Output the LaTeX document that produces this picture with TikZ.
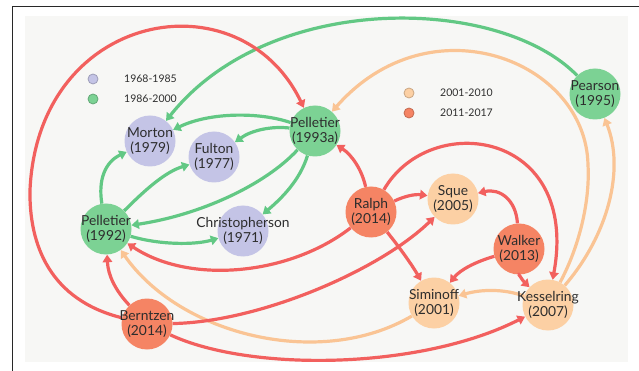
\documentclass[tikz,border=0pt]{standalone}
\usepackage{fontspec}
\setmainfont{Lato}
\usetikzlibrary{arrows.meta}

% palette
\definecolor{panel}{RGB}{247,247,245}
\definecolor{frameline}{RGB}{40,40,40}
\definecolor{inkdark}{RGB}{45,45,45}
\definecolor{lavfill}{RGB}{196,196,230}
\definecolor{greenfill}{RGB}{124,210,148}
\definecolor{peachfill}{RGB}{252,208,164}
\definecolor{salmonfill}{RGB}{245,132,100}
\definecolor{greenedge}{RGB}{98,200,132}
\definecolor{peachedge}{RGB}{250,196,148}
\definecolor{rededge}{RGB}{242,96,94}

\tikzset{
  author/.style={circle, minimum size=51pt, inner sep=0pt, draw=none},
  lav/.style={author, fill=lavfill},
  grn/.style={author, fill=greenfill},
  pch/.style={author, fill=peachfill},
  sal/.style={author, fill=salmonfill},
  txt/.style={align=center, text=inkdark, inner sep=0pt,
    font=\fontsize{13.8}{14.8}\selectfont},
  cite/.style={line width=3.2pt, -{Triangle[length=7.5pt,width=9.5pt]}},
  eg/.style={cite, draw=greenedge},
  ep/.style={cite, draw=peachedge},
  er/.style={cite, draw=rededge},
  keydot/.style={circle, minimum size=10pt, inner sep=0pt, line width=0.8pt},
  keytxt/.style={anchor=west, text=inkdark, inner sep=0pt,
    font=\fontsize{10.5}{12}\selectfont},
}

\begin{document}
\begin{tikzpicture}[x=1pt, y=-1pt]
\path[use as bounding box] (0,0) rectangle (639,371);
\fill[white] (0,0) rectangle (639,371);
\fill[panel] (25,16) rectangle (628,362);
\draw[frameline, line width=1pt] (12.5,371) -- (12.5,6.5) -- (639,6.5);

% legend
\node[keydot, fill=lavfill, draw=lavfill!80!black] (k1) at (93,79) {};
\node[keytxt] (k1t) at (124,79) {1968-1985};
\node[keydot, fill=greenfill, draw=greenfill!80!black] (k2) at (93,99) {};
\node[keytxt] (k2t) at (124,99) {1986-2000};
\node[keydot, fill=peachfill, draw=peachfill!80!black] (k3) at (409,93) {};
\node[keytxt] (k3t) at (440,93) {2001-2010};
\node[keydot, fill=salmonfill, draw=salmonfill!80!black] (k4) at (409,113) {};
\node[keytxt] (k4t) at (440,113) {2011-2017};

% authors
\node[lav] (morton)   at (150,141) {};
\node[lav] (fulton)   at (214,157) {};
\node[lav] (chris)    at (243,231) {};
\node[grn] (p93)      at (315,131) {};
\node[grn] (p92)      at (106,229) {};
\node[grn] (pearson)  at (595,94)  {};
\node[pch] (sque)     at (453,199) {};
\node[pch] (siminoff) at (434,303) {};
\node[pch] (kessel)   at (548,305) {};
\node[sal] (ralph)    at (371,212) {};
\node[sal] (walker)   at (519,249) {};
\node[sal] (berntzen) at (147,324) {};

% green citations
\draw[eg] (pearson) .. controls (500,-4) and (270,-10) .. (morton);
\draw[eg] (p93) .. controls (260,112) and (210,112) .. (morton);
\draw[eg] (p93) .. controls (272,126) and (252,130) .. (fulton);
\draw[eg] (p93) .. controls (265,185) and (200,215) .. (p92);
\draw[eg] (p93) .. controls (300,180) and (282,198) .. (chris);
\draw[eg] (p92) .. controls (98,180) and (105,162) .. (morton);
\draw[eg] (p92) .. controls (145,190) and (165,172) .. (fulton);
\draw[eg] (p92) .. controls (160,245) and (195,245) .. (chris);

% peach citations
\draw[ep] (kessel) .. controls (580,245) and (590,200) .. (588,165)
                   .. controls (586,60) and (430,0) .. (p93);
\draw[ep] (kessel) .. controls (608,235) and (625,170) .. (pearson);
\draw[ep] (kessel) .. controls (505,289) and (482,289) .. (siminoff);
\draw[ep] (siminoff) .. controls (320,370) and (180,335) .. (p92);

% red citations
\draw[er] (berntzen) .. controls (50,300) and (29,245) .. (30,190)
                     .. controls (38,10) and (240,-25) .. (p93);
\draw[er] (berntzen) .. controls (115,290) and (108,275) .. (p92);
\draw[er] (berntzen) .. controls (260,322) and (380,270) .. (sque);
\draw[er] (berntzen) .. controls (250,372) and (420,370) .. (kessel);
\draw[er] (ralph) .. controls (290,275) and (190,285) .. (p92);
\draw[er] (ralph) .. controls (362,170) and (352,155) .. (p93);
\draw[er] (ralph) .. controls (405,196) and (415,194) .. (sque);
\draw[er] (ralph) .. controls (400,248) and (412,265) .. (siminoff);
\draw[er] (ralph) .. controls (430,110) and (580,130) .. (kessel);
\draw[er] (walker) .. controls (516,200) and (500,188) .. (sque);
\draw[er] (walker) .. controls (475,262) and (460,270) .. (siminoff);
\draw[er] (walker) .. controls (518,272) and (522,280) .. (kessel);

% names
\node[txt] (mortonT)   at (morton)   {Morton\\(1979)};
\node[txt] (fultonT)   at (fulton)   {Fulton\\(1977)};
\node[txt] (chrisT)    at (chris)    {Christopherson\\(1971)};
\node[txt] (p93T)      at (p93)      {Pelletier\\(1993a)};
\node[txt] (p92T)      at (p92)      {Pelletier\\(1992)};
\node[txt] (pearsonT)  at (pearson)  {Pearson\\(1995)};
\node[txt] (squeT)     at (sque)     {Sque\\(2005)};
\node[txt] (siminoffT) at (siminoff) {Siminoff\\(2001)};
\node[txt] (kesselT)   at (kessel)   {Kesselring\\(2007)};
\node[txt] (ralphT)    at (ralph)    {Ralph\\(2014)};
\node[txt] (walkerT)   at (walker)   {Walker\\(2013)};
\node[txt] (berntzenT) at (berntzen) {Berntzen\\(2014)};
\end{tikzpicture}
\end{document}
